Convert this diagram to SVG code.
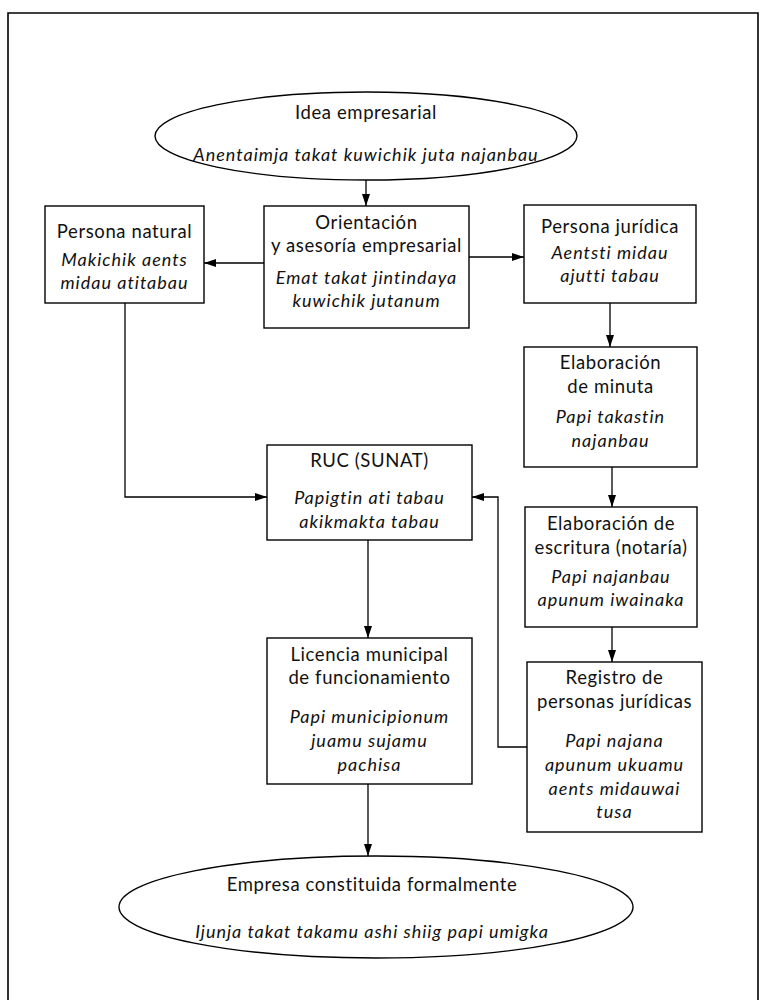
<svg xmlns="http://www.w3.org/2000/svg" width="762" height="1000" viewBox="0 0 762 1000">
<style>
.box{fill:#fff;stroke:#000;stroke-width:1.4}
.t{font-family:"Lato","Liberation Sans",sans-serif;font-size:18.5px;fill:#111;text-anchor:middle;letter-spacing:0.6px}
.i{font-size:18px;font-style:italic;letter-spacing:1px}
.c{fill:none;stroke:#000;stroke-width:1.3}
.frame{fill:none;stroke:#000;stroke-width:1.6}
</style>
<defs>
<marker id="ah" viewBox="0 0 12 8" refX="12" refY="4" markerWidth="12" markerHeight="8" markerUnits="userSpaceOnUse" orient="auto">
<path d="M0,0 L12,4 L0,8 Z" fill="#000"/>
</marker>
</defs>
<rect width="762" height="1000" fill="#fff"/>
<path class="frame" d="M8,1000 V13 H758 V1000"/>

<g id="connectors">
<path class="c" marker-end="url(#ah)" d="M366,180 V206"/>
<path class="c" marker-end="url(#ah)" d="M264,263 H204"/>
<path class="c" marker-end="url(#ah)" d="M469,257 H524"/>
<path class="c" marker-end="url(#ah)" d="M610,303 V347"/>
<path class="c" marker-end="url(#ah)" d="M612,467 V507"/>
<path class="c" marker-end="url(#ah)" d="M612,627 V662"/>
<path class="c" marker-end="url(#ah)" d="M125,303 V497 H267"/>
<path class="c" marker-end="url(#ah)" d="M527,747 H498 V497 H472"/>
<path class="c" marker-end="url(#ah)" d="M368,540 V638"/>
<path class="c" marker-end="url(#ah)" d="M368,784 V856"/>
</g>

<g id="idea">
<ellipse class="box" cx="366" cy="136" rx="211" ry="44"/>
<text class="t" x="366" y="119">Idea empresarial</text>
<text class="t i" x="366" y="161">Anentaimja takat kuwichik juta najanbau</text>
</g>

<g id="persona-natural">
<rect class="box" x="45" y="206" width="159" height="97"/>
<text class="t" x="124.5" y="238">Persona natural</text>
<text class="t i" x="124.5" y="266">Makichik aents</text>
<text class="t i" x="124.5" y="289">midau atitabau</text>
</g>

<g id="orientacion">
<rect class="box" x="264" y="206" width="205" height="122"/>
<text class="t" x="366.5" y="229">Orientación</text>
<text class="t" x="366.5" y="252">y asesoría empresarial</text>
<text class="t i" x="366.5" y="284">Emat takat jintindaya</text>
<text class="t i" x="366.5" y="307">kuwichik jutanum</text>
</g>

<g id="persona-juridica">
<rect class="box" x="524" y="205" width="172" height="98"/>
<text class="t" x="610" y="233">Persona jurídica</text>
<text class="t i" x="610" y="259">Aentsti midau</text>
<text class="t i" x="610" y="282">ajutti tabau</text>
</g>

<g id="minuta">
<rect class="box" x="524" y="347" width="173" height="120"/>
<text class="t" x="610.5" y="369">Elaboración</text>
<text class="t" x="610.5" y="393">de minuta</text>
<text class="t i" x="610.5" y="423">Papi takastin</text>
<text class="t i" x="610.5" y="447">najanbau</text>
</g>

<g id="escritura">
<rect class="box" x="525" y="507" width="172" height="120"/>
<text class="t" x="611" y="530">Elaboración de</text>
<text class="t" x="611" y="554">escritura (notaría)</text>
<text class="t i" x="611" y="583">Papi najanbau</text>
<text class="t i" x="611" y="606">apunum iwainaka</text>
</g>

<g id="registro">
<rect class="box" x="527" y="662" width="175" height="170"/>
<text class="t" x="614.5" y="684">Registro de</text>
<text class="t" x="614.5" y="708">personas jurídicas</text>
<text class="t i" x="614.5" y="747">Papi najana</text>
<text class="t i" x="614.5" y="771">apunum ukuamu</text>
<text class="t i" x="614.5" y="795">aents midauwai</text>
<text class="t i" x="614.5" y="818">tusa</text>
</g>

<g id="ruc">
<rect class="box" x="267" y="445" width="205" height="95"/>
<text class="t" x="369.5" y="467">RUC (SUNAT)</text>
<text class="t i" x="369.5" y="504">Papigtin ati tabau</text>
<text class="t i" x="369.5" y="528">akikmakta tabau</text>
</g>

<g id="licencia">
<rect class="box" x="267" y="638" width="205" height="146"/>
<text class="t" x="369.5" y="661">Licencia municipal</text>
<text class="t" x="369.5" y="684">de funcionamiento</text>
<text class="t i" x="369.5" y="723">Papi municipionum</text>
<text class="t i" x="369.5" y="747">juamu sujamu</text>
<text class="t i" x="369.5" y="771">pachisa</text>
</g>

<g id="empresa">
<ellipse class="box" cx="376" cy="907" rx="257" ry="51"/>
<text class="t" x="372" y="891">Empresa constituida formalmente</text>
<text class="t i" x="372" y="938">Ijunja takat takamu ashi shiig papi umigka</text>
</g>
</svg>
